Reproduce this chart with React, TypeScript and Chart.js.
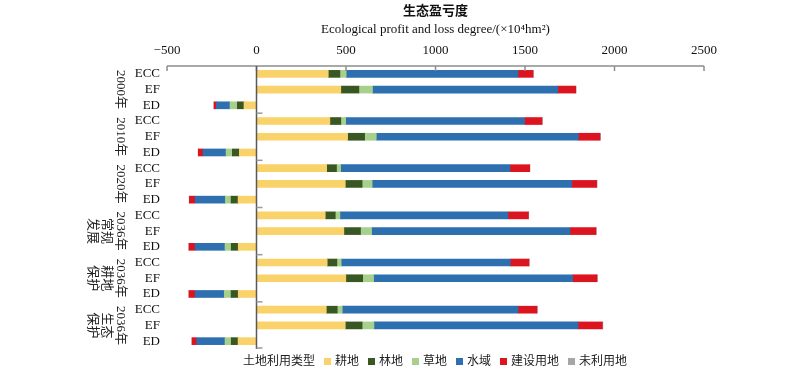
import React, { useEffect, useRef } from "react";
import { Chart, registerables } from "chart.js";

Chart.register(...registerables);

const rowLabels = ["ECC", "EF", "ED", "ECC", "EF", "ED", "ECC", "EF", "ED", "ECC", "EF", "ED", "ECC", "EF", "ED", "ECC", "EF", "ED"];
const groupLabels = [["2000年"], ["2010年"], ["2020年"], ["2036年", "常规", "发展"], ["2036年", "耕地", "保护"], ["2036年", "生态", "保护"]];

const gengdi = [401, 471, -70, 410, 509, -96, 392, 496, -103, 384, 488, -102, 395, 499, -102, 390, 496, -103];
const lindi = [65, 101, -37, 61, 95, -39, 55, 94, -39, 56, 93, -39, 54, 94, -40, 61, 94, -38];
const caodi = [35, 76, -41, 27, 65, -35, 23, 56, -32, 26, 62, -35, 24, 61, -38, 28, 66, -35];
const shuiyu = [960, 1035, -76, 999, 1129, -129, 946, 1115, -169, 939, 1108, -167, 945, 1112, -163, 982, 1140, -158];
const jianshe = [84, 100, -13, 98, 121, -26, 110, 139, -32, 114, 145, -34, 104, 136, -34, 106, 136, -26];
const weiliyong = [2, 3, -1, 2, 3, -1, 2, 3, -1, 2, 3, -1, 2, 3, -1, 2, 3, -1];

const seriesNames = ["耕地", "林地", "草地", "水域", "建设用地", "未利用地"];
const seriesColors = ["#F9D36A", "#385723", "#A8D08D", "#2E6FB0", "#DC1420", "#A6A6A6"];
const seriesData = [gengdi, lindi, caodi, shuiyu, jianshe, weiliyong];

const xMin = -500;
const xMax = 2500;
const xStep = 500;

const titleText = "生态盈亏度";
const subtitleText = "Ecological profit and loss degree/(×10⁴hm²)";
const legendTitle = "土地利用类型";

const SERIF = "'Liberation Serif', 'Times New Roman', 'Noto Sans CJK SC', serif";

const decor = {
  id: "decor",
  afterDraw(chart: any) {
    const { ctx, chartArea, scales } = chart;
    const { left, right, top, bottom } = chartArea;
    const x = scales.x;
    const y = scales.y;
    const line = (x1: number, y1: number, x2: number, y2: number) => {
      ctx.beginPath();
      ctx.moveTo(x1, y1);
      ctx.lineTo(x2, y2);
      ctx.stroke();
    };
    ctx.save();
    ctx.strokeStyle = "#8C8C8C";
    ctx.lineWidth = 1.5;
    line(left, top, right, top);
    x.ticks.forEach((t: any) => {
      const px = x.getPixelForValue(t.value);
      line(px, top, px, top + 5);
    });
    const zx = x.getPixelForValue(0);
    ctx.strokeStyle = "#595959";
    ctx.lineWidth = 1.5;
    line(zx, top, zx, bottom);
    ctx.strokeStyle = "#9A9A9A";
    for (let g = 1; g <= 6; g++) {
      let yb;
      if (g < 6) yb = (y.getPixelForValue(3 * g - 1) + y.getPixelForValue(3 * g)) / 2;
      else yb = bottom - 1;
      line(zx, yb, zx + 6, yb);
    }
    ctx.fillStyle = "#222";
    ctx.font = `13px ${SERIF}`;
    ctx.textAlign = "center";
    ctx.textBaseline = "middle";
    groupLabels.forEach((lines, g) => {
      const cy = y.getPixelForValue(3 * g + 1);
      lines.forEach((txt, i) => {
        ctx.save();
        ctx.translate(left - 47 - i * 14, cy);
        ctx.rotate(Math.PI / 2);
        ctx.fillText(txt, 0, 0);
        ctx.restore();
      });
    });
    const cx = (left + right) / 2;
    ctx.fillStyle = "#111";
    ctx.font = `bold 13px ${SERIF}`;
    ctx.fillText(titleText, cx, 12);
    ctx.font = `13px ${SERIF}`;
    ctx.fillText(subtitleText, cx, 30);
    ctx.font = `12px ${SERIF}`;
    ctx.textAlign = "left";
    const ly = 362;
    let lx = 243;
    ctx.fillStyle = "#222";
    ctx.fillText(legendTitle, lx, ly);
    lx += ctx.measureText(legendTitle).width + 9;
    seriesNames.forEach((nm, i) => {
      ctx.fillStyle = seriesColors[i];
      ctx.fillRect(lx, ly - 4, 7, 7);
      lx += 11;
      ctx.fillStyle = "#222";
      ctx.fillText(nm, lx, ly);
      lx += ctx.measureText(nm).width + 9;
    });
    ctx.restore();
  },
};

export default function App() {
  const ref = useRef<HTMLCanvasElement | null>(null);
  useEffect(() => {
    if (!ref.current) return;
    const chart = new Chart(ref.current, {
      type: "bar",
      data: {
        labels: rowLabels,
        datasets: seriesData.map((d, i) => ({
          label: seriesNames[i],
          data: d,
          backgroundColor: seriesColors[i],
          borderWidth: 0,
          barThickness: 7,
        })),
      },
      options: {
        indexAxis: "y",
        animation: false,
        responsive: true,
        maintainAspectRatio: false,
        layout: { padding: { left: 0, right: 96, top: 0, bottom: 32 } },
        plugins: { legend: { display: false }, tooltip: { enabled: false }, title: { display: false } },
        scales: {
          x: {
            position: "top",
            stacked: true,
            min: xMin,
            max: xMax,
            ticks: {
              stepSize: xStep,
              color: "#111",
              font: { family: SERIF, size: 13 },
              padding: 8,
              callback: (v: any) => (Number(v) < 0 ? "−" + Math.abs(Number(v)) : String(v)),
            },
            grid: { display: false, drawTicks: false },
            border: { display: false },
            afterFit: (s: any) => {
              s.height = 66;
            },
          },
          y: {
            stacked: true,
            ticks: { color: "#111", font: { family: SERIF, size: 13 }, padding: 7, autoSkip: false },
            grid: { display: false, drawTicks: false },
            border: { display: false },
            afterFit: (s: any) => {
              s.width = 167;
            },
          },
        },
      },
      plugins: [decor],
    });
    return () => chart.destroy();
  }, []);
  return (
    <div style={{ position: "fixed", left: 0, top: 0, width: 800, height: 381, background: "#fff" }}>
      <canvas ref={ref} />
    </div>
  );
}
